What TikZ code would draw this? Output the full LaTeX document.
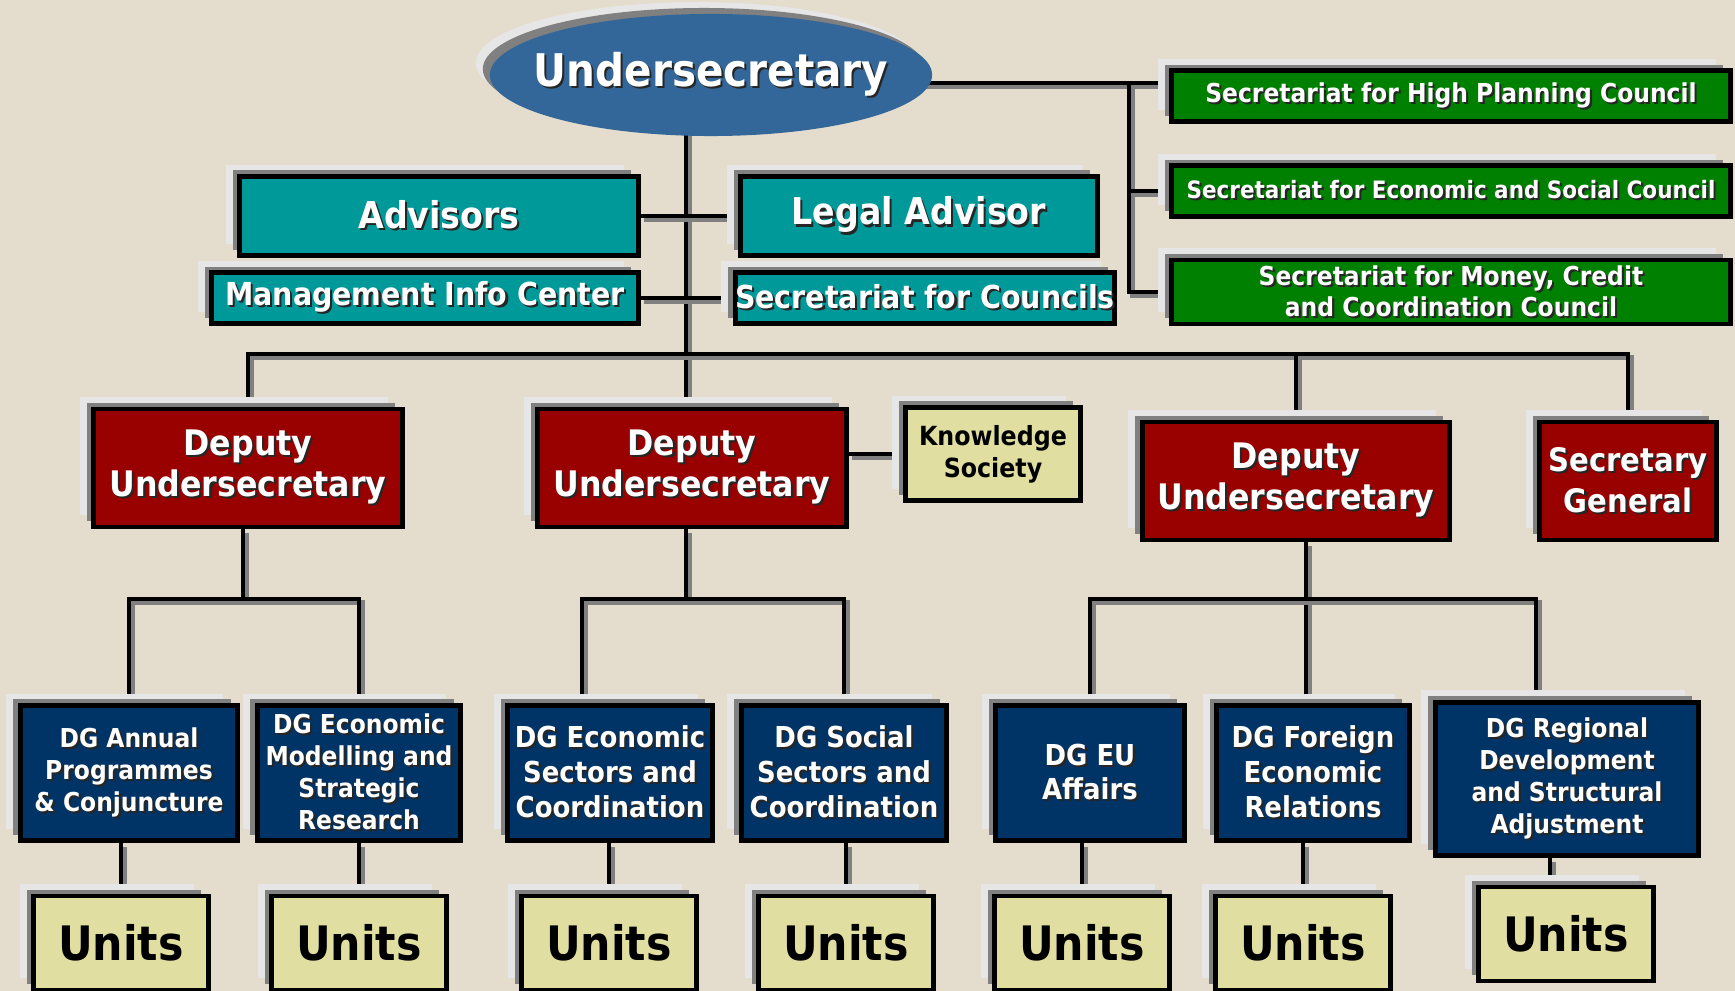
\documentclass[tikz,border=0pt]{standalone}
\usepackage{fontspec}
\setmainfont{DejaVu Sans Condensed}
\usetikzlibrary{positioning,shapes.geometric}

\definecolor{bgbeige}{RGB}{228,220,205}
\definecolor{shlight}{RGB}{230,230,230}
\definecolor{shdark}{RGB}{128,128,128}
\definecolor{usblue}{RGB}{51,102,153}
\definecolor{advteal}{RGB}{0,153,153}
\definecolor{secgreen}{RGB}{0,128,0}
\definecolor{depred}{RGB}{153,0,0}
\definecolor{dgnavy}{RGB}{0,51,102}
\definecolor{unityellow}{RGB}{224,222,160}

\pgfdeclarelayer{bg}
\pgfsetlayers{bg,main}

\newcommand\shtxt[1]{\leavevmode\rlap{\kern0.6pt\raisebox{-0.6pt}{\color{black!85}#1}}#1}

\begin{document}
\begin{tikzpicture}[x=0.01cm,y=-0.01cm,
        shadowed/.style={preaction={fill=shlight,draw=none,transform canvas={xshift=-4pt,yshift=3.4pt}},
            preaction={fill=shdark,draw=none,transform canvas={xshift=-2pt,yshift=1.7pt}}},
        box/.style={shadowed,rectangle,draw=black,line width=1.4pt,inner sep=0pt,align=center,text=white},
        teal box/.style={box,fill=advteal,font=\fontsize{10.5}{12.5}\selectfont\bfseries},
        small teal box/.style={box,fill=advteal,font=\fontsize{9}{11}\selectfont\bfseries},
        green box/.style={box,fill=secgreen,minimum width=5.58cm,font=\fontsize{7.4}{8.8}\selectfont\bfseries},
        red box/.style={box,fill=depred,minimum height=1.18cm,font=\fontsize{10}{11.7}\selectfont\bfseries},
        dg box/.style={box,fill=dgnavy,minimum height=1.35cm,font=\fontsize{7.4}{9.1}\selectfont\bfseries},
        big dg box/.style={box,fill=dgnavy,minimum height=1.35cm,font=\fontsize{8.2}{9.9}\selectfont\bfseries},
        unit box/.style={box,fill=unityellow,text=black,minimum width=1.74cm,minimum height=0.94cm,
            font=\fontsize{13.5}{15}\selectfont\bfseries},
        conn/.style={draw=black,line width=1.2pt,
            preaction={draw=shdark,line width=1.2pt,transform canvas={xshift=1pt,yshift=-1pt}}}]
        \useasboundingbox (0,0) rectangle (1735,991);

        \node[ellipse,shadowed,fill=usblue,text=white,inner ysep=0pt,inner xsep=-0.25cm,
            minimum width=4.42cm,minimum height=1.22cm,
            font=\fontsize{12.8}{15}\selectfont\bfseries] (us) at (711,75) {\shtxt{Undersecretary}};

        \node[teal box,minimum width=3.98cm,minimum height=0.79cm] (adv) at (439,216) {\shtxt{Advisors}};
        \node[teal box,minimum width=3.56cm,minimum height=0.79cm] (legal) at (919,216) {\shtxt{Legal Advisor}};
        \node[small teal box,minimum width=4.26cm,minimum height=0.51cm] (mic) at (425,298) {\shtxt{Management Info Center}};
        \node[small teal box,minimum width=3.69cm,minimum height=0.51cm] (sfc) at (925,298) {\shtxt{Secretariat for Councils}};

        \node[green box,minimum height=0.51cm] (hpc) at (1451,96) {\shtxt{Secretariat for High Planning Council}};
        \node[green box,minimum height=0.51cm,font=\fontsize{6.8}{8.8}\selectfont\bfseries] (esc) at (1451,191)
            {\shtxt{Secretariat for Economic and Social Council}};
        \node[green box,minimum height=0.64cm] (mcc) at (1451,292)
            {\shtxt{Secretariat for Money, Credit}\\\shtxt{and Coordination Council}};

        \node[red box,minimum width=3.08cm] (dep1) at (248,468) {\shtxt{Deputy}\\\shtxt{Undersecretary}};
        \node[red box,minimum width=3.08cm] (dep2) at (692,468) {\shtxt{Deputy}\\\shtxt{Undersecretary}};
        \node[box,fill=unityellow,text=black,minimum width=1.74cm,minimum height=0.93cm,
            font=\fontsize{7.5}{9.1}\selectfont\bfseries] (ks) at (993,454) {Knowledge\\Society};
        \node[red box,minimum width=3.07cm] (dep3) at (1296,481) {\shtxt{Deputy}\\\shtxt{Undersecretary}};
        \node[red box,minimum width=1.76cm,font=\fontsize{9.2}{11.7}\selectfont\bfseries] (sg) at (1628,481)
            {\shtxt{Secretary}\\\shtxt{General}};

        \node[dg box,minimum width=2.17cm] (dg1) at (129,773) {\shtxt{DG Annual}\\\shtxt{Programmes}\\\shtxt{\& Conjuncture}};
        \node[dg box,minimum width=2.03cm] (dg2) at (359,773)
            {\shtxt{DG Economic}\\\shtxt{Modelling and}\\\shtxt{Strategic}\\\shtxt{Research}};
        \node[big dg box,minimum width=2.04cm] (dg3) at (610,773) {\shtxt{DG Economic}\\\shtxt{Sectors and}\\\shtxt{Coordination}};
        \node[big dg box,minimum width=2.05cm] (dg4) at (844,773) {\shtxt{DG Social}\\\shtxt{Sectors and}\\\shtxt{Coordination}};
        \node[big dg box,minimum width=1.88cm] (dg5) at (1090,773) {\shtxt{DG EU}\\\shtxt{Affairs}};
        \node[big dg box,minimum width=1.92cm] (dg6) at (1313,773) {\shtxt{DG Foreign}\\\shtxt{Economic}\\\shtxt{Relations}};
        \node[dg box,minimum width=2.63cm,minimum height=1.53cm] (dg7) at (1567,779)
            {\shtxt{DG Regional}\\\shtxt{Development}\\\shtxt{and Structural}\\\shtxt{Adjustment}};

        \node[unit box] (u1) at (121,943) {Units};
        \node[unit box] (u2) at (359,943) {Units};
        \node[unit box] (u3) at (609,943) {Units};
        \node[unit box] (u4) at (846,943) {Units};
        \node[unit box] (u5) at (1082,943) {Units};
        \node[unit box] (u6) at (1303,943) {Units};
        \node[unit box] (u7) at (1566,934) {Units};

        \begin{pgfonlayer}{bg}
            \fill[bgbeige] (0,0) rectangle (1735,991);
            \coordinate (trunk) at (686,354);
            \coordinate (gtrunk) at (1129,83);
            \coordinate (bus1) at (243,599);
            \coordinate (bus2) at (686,599);
            \coordinate (bus3) at (1306,599);

            \draw[conn] (us.center -| trunk) -- (dep2.north -| trunk);
            \draw[conn] (adv.east) -- (adv.east -| legal.west);
            \draw[conn] (mic.east) -- (mic.east -| sfc.west);
            \draw[conn] (dep1.north) -- (dep1.north |- trunk) -- (sg.north |- trunk) -- (sg.north);
            \draw[conn] (dep3.north |- trunk) -- (dep3.north);

            \draw[conn] (us.center |- gtrunk) -- (gtrunk -| hpc.west);
            \draw[conn] (gtrunk) -- (gtrunk |- mcc.west) -- (mcc.west);
            \draw[conn] (gtrunk |- esc.west) -- (esc.west);

            \draw[conn] (dep2.east |- ks.west) -- (ks.west);

            \draw[conn] (dep1.south -| bus1) -- (bus1);
            \draw[conn] (dg1.north) -- (dg1.north |- bus1) -- (dg2.north |- bus1) -- (dg2.north);
            \draw[conn] (dep2.south -| bus2) -- (bus2);
            \draw[conn] ([xshift=-0.28cm]dg3.north) -- ([xshift=-0.28cm]dg3.north |- bus2) -- (dg4.north |- bus2) -- (dg4.north);
            \draw[conn] (dep3.south -| bus3) -- (dg6.north -| bus3);
            \draw[conn] (dg5.north) -- (dg5.north |- bus3) -- ([xshift=-0.31cm]dg7.north |- bus3) -- ([xshift=-0.31cm]dg7.north);

            \draw[conn] (u1.north |- dg1.south) -- (u1.north);
            \draw[conn] (u2.north |- dg2.south) -- (u2.north);
            \draw[conn] (u3.north |- dg3.south) -- (u3.north);
            \draw[conn] (u4.north |- dg4.south) -- (u4.north);
            \draw[conn] (u5.north |- dg5.south) -- (u5.north);
            \draw[conn] (u6.north |- dg6.south) -- (u6.north);
            \draw[conn] ([xshift=-0.16cm]u7.north |- dg7.south) -- ([xshift=-0.16cm]u7.north);
        \end{pgfonlayer}
\end{tikzpicture}
\end{document}
